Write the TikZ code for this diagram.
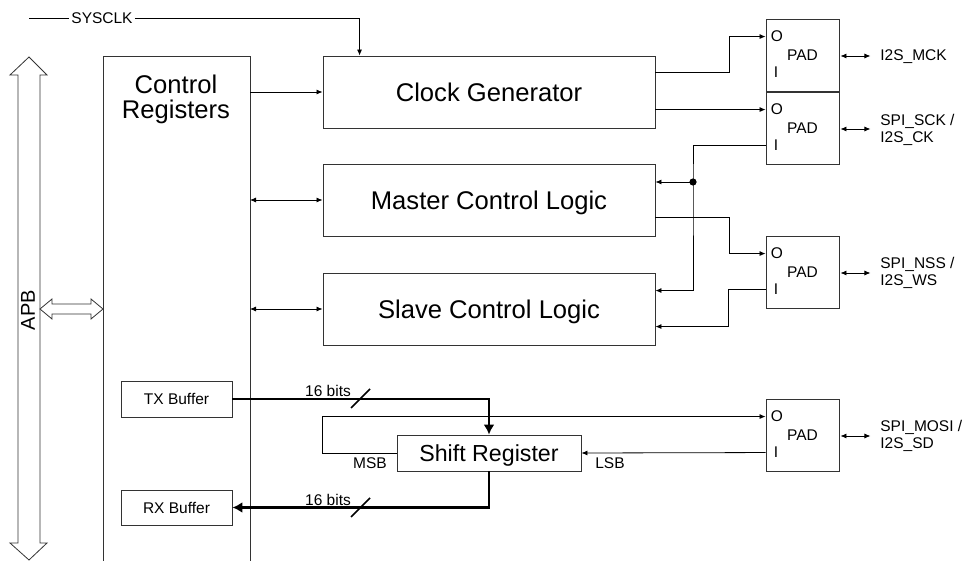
\documentclass[tikz,border=0pt]{standalone}
\usepackage{fontspec}
\setmainfont{Liberation Sans}
\usetikzlibrary{arrows.meta,calc}
\begin{document}
\begin{tikzpicture}[x=1pt,y=-1pt,
  line width=0.8pt,
  box/.style={draw=black!80, line width=0.9pt, inner sep=0pt, fill=white},
  bigbox/.style={box, font=\fontsize{25.6}{30}\selectfont, text height=18.4pt, text depth=0pt},
  srbox/.style={box, font=\fontsize{23.2}{28}\selectfont, text height=16.6pt, text depth=0pt},
  smbox/.style={box, font=\fontsize{15.5}{18}\selectfont, text height=11.1pt, text depth=0pt},
  padbox/.style={smbox, minimum width=73pt, minimum height=72pt},
  bigtxt/.style={font=\fontsize{25.6}{30}\selectfont, inner sep=0pt},
  smtxt/.style={font=\fontsize{15.5}{17.5}\selectfont, inner sep=0pt},
  lbl/.style={smtxt, anchor=west, align=left, inner xsep=10pt},
  arr/.style={draw=black, -{Latex[length=6pt,width=5pt]}},
  darr/.style={draw=black, {Latex[length=6pt,width=5pt]}-{Latex[length=6pt,width=5pt]}},
  bus/.style={draw=black, line width=2.5pt, -{Latex[length=10pt,width=11pt]}},
  hollow/.style={draw=black!80, line width=0.8pt, fill=white}
]
\useasboundingbox (0,0) rectangle (967,561);

% APB bus arrows
\draw[hollow] (29,57) -- (47,75) -- (40,75) -- (40,543) -- (47,543) -- (29,560)
  -- (10,543) -- (18,543) -- (18,75) -- (10,75) -- cycle;
\node[font=\fontsize{20}{24}\selectfont, inner sep=0pt, rotate=90] (apb) at (28,310) {APB};
\draw[hollow] (40,309) -- (52,299) -- (52,304) -- (91,304) -- (91,299) -- (103,309)
  -- (91,319) -- (91,314) -- (52,314) -- (52,319) -- cycle;

% Control registers (open at the bottom)
\coordinate (crNW) at (103,56);
\coordinate (crNE) at (250,56);
\draw[draw=black!80, line width=0.9pt] (103,565) -- (crNW) -- (crNE) -- (250,565);
\node[bigtxt, anchor=base] (cr1) at (176,94) {Control};
\node[bigtxt, anchor=base] (cr2) at (176,119) {Registers};

% Main blocks
\node[bigbox, minimum width=332pt, minimum height=72pt] (cg) at (489,92) {Clock Generator};
\node[bigbox, minimum width=332pt, minimum height=72pt] (mcl) at (489,200) {Master Control Logic};
\node[bigbox, minimum width=332pt, minimum height=72pt] (scl) at (489,309) {Slave Control Logic};
\node[srbox, minimum width=184pt, minimum height=36pt] (sr) at (489,453) {Shift Register};
\node[smbox, minimum width=111pt, minimum height=36pt] (tx) at (176.5,399) {TX Buffer};
\node[smbox, minimum width=111pt, minimum height=35pt] (rx) at (176.5,507.5) {RX Buffer};

% Pads
\node[padbox] (p1) at (802.5,55) {PAD};
\node[padbox] (p2) at (802.5,128) {PAD};
\node[padbox] (p3) at (802.5,272) {PAD};
\node[padbox] (p4) at (802.5,435) {PAD};
\foreach \p in {p1,p2,p3,p4}{
  \coordinate (\p o) at ($(\p.north west)+(0,18)$);
  \coordinate (\p i) at ($(\p.north west)+(0,54)$);
  \node[smtxt, anchor=west] (\p O) at ($(\p o)+(5,0)$) {O};
  \node[smtxt, anchor=west] (\p I) at ($(\p i)+(8,0)$) {I};
}

% Pad labels
\node[lbl] (l1) at (870,57) {I2S\_MCK};
\node[lbl] (l2) at (870,130) {SPI\_SCK /\\I2S\_CK};
\node[lbl] (l3) at (870,273) {SPI\_NSS /\\I2S\_WS};
\node[lbl] (l4) at (870,436) {SPI\_MOSI /\\I2S\_SD};
\foreach \p/\l in {p1/l1,p2/l2,p3/l3,p4/l4}{
  \draw[darr] ($(\p.east)+(1,1)$) -- ++(30,0);
}

% SYSCLK
\coordinate (sysL) at (29,18);
\node[smtxt, inner xsep=2pt] (sys) at (102,18) {SYSCLK};
\coordinate (cgin) at ($(cg.north west)+(37,0)$);
\draw (sysL) -- (sys.west);
\draw[arr] (sys.east) -| (cgin);

% Control registers to blocks
\draw[arr] (crNE |- cg.west) -- (cg.west);
\draw[darr] (crNE |- mcl.west) -- (mcl.west);
\draw[darr] (crNE |- scl.west) -- (scl.west);

% Clock generator outputs
\coordinate (cgo1) at ($(cg.north east)+(0,17)$);
\coordinate (cgo2) at ($(cg.north east)+(0,54)$);
\draw[arr] (cgo1) -- ++(74,0) |- (p1o);
\draw[arr] (cgo2) -- (p2o);

% SCK input to master/slave
\coordinate (dot) at (693,182);
\coordinate (sclin1) at ($(scl.north east)+(0,18)$);
\coordinate (sclin2) at ($(scl.north east)+(0,54)$);
\draw[arr] (p2i) -| (dot) |- (sclin1);
\draw[arr] (dot) -- (dot -| mcl.east);
\fill (dot) circle (3.6pt);

% NSS
\coordinate (mclo) at ($(mcl.north east)+(0,54)$);
\draw[arr] (mclo) -- ++(74,0) |- (p3o);
\draw[arr] (p3i) -- ++(-37,0) |- (sclin2);

% Shift register paths
\draw[arr] (sr.west) -- ++(-74,0) |- (p4o);
\draw[arr] (p4i) -- (sr.east);
\node[smtxt, anchor=base] (msb) at (370,468) {MSB};
\node[smtxt, anchor=base] (lsb) at (610,468) {LSB};

% Data buses
\draw[bus] (tx.east) -| (sr.north);
\draw[bus] (sr.south) |- (rx.east);
\node[smtxt, anchor=base] (b1) at (328,396) {16 bits};
\node[smtxt, anchor=base] (b2) at (328,505) {16 bits};
\draw[line width=1.6pt] (351,408) -- (370,389);
\draw[line width=1.6pt] (351,517) -- (370,498);
\end{tikzpicture}
\end{document}
